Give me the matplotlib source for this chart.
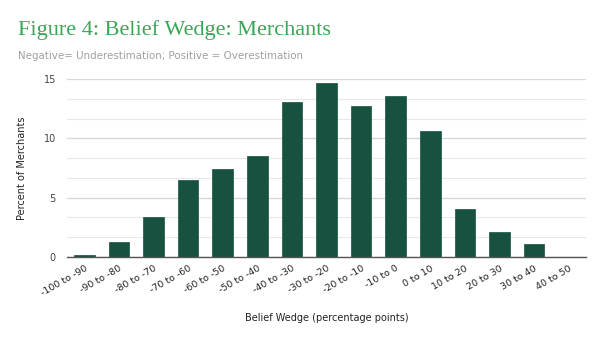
import matplotlib
matplotlib.use('Agg')
import matplotlib.pyplot as plt
from matplotlib.ticker import MultipleLocator

# 数据
bins = ['-100 to -90', '-90 to -80', '-80 to -70', '-70 to -60', '-60 to -50',
        '-50 to -40', '-40 to -30', '-30 to -20', '-20 to -10', '-10 to 0',
        '0 to 10', '10 to 20', '20 to 30', '30 to 40', '40 to 50']
percent = [0.2, 1.27, 3.33, 6.46, 7.41, 8.49, 13.08, 14.69, 12.72, 13.53,
           10.6, 4.06, 2.09, 1.07, 0.0]
yticks = [0, 5, 10, 15]

fig = plt.figure(figsize=(6.02, 3.37), dpi=100)
ax = fig.add_axes([67 / 602, 1 - 257 / 337, (586 - 67) / 602, (257 - 79) / 337])

ax.bar(range(len(bins)), percent, width=0.6, color='#17513f',
       edgecolor='#17513f', lw=0.5, zorder=3)

ax.set_xlim(-0.5, len(bins) - 0.5)
ax.set_ylim(0, 15)
ax.set_yticks(yticks)
ax.yaxis.set_minor_locator(MultipleLocator(5 / 3))
ax.grid(axis='y', which='major', color='#d6d6d6', lw=0.9, zorder=0)
ax.grid(axis='y', which='minor', color='#e8e8e8', lw=0.8, zorder=0)
ax.tick_params(axis='both', which='both', length=0)
ax.tick_params(axis='y', labelsize=7, labelcolor='#444444', pad=8)

ax.set_xticks(range(len(bins)))
ax.set_xticklabels(bins, rotation=30, ha='right', rotation_mode='anchor',
                   fontsize=6.8, color='#222222')
ax.tick_params(axis='x', pad=5)

for s in ['top', 'right', 'left']:
    ax.spines[s].set_visible(False)
ax.spines['bottom'].set_color('#555555')
ax.spines['bottom'].set_linewidth(1.0)
ax.spines['bottom'].set_zorder(4)

ax.set_ylabel('Percent of Merchants', fontsize=7, color='#222222', labelpad=12)
ax.set_xlabel('Belief Wedge (percentage points)', fontsize=7, color='#222222',
              labelpad=11)

fig.text(18 / 602, 1 - 30 / 337, 'Figure 4: Belief Wedge: Merchants',
         family='Liberation Serif', fontsize=16, color='#3aa757', va='center')
fig.text(18 / 602, 1 - 56 / 337,
         'Negative= Underestimation; Positive = Overestimation',
         fontsize=7.4, color='#a0a0a0', va='center')

fig.savefig('out.png', dpi=100)
